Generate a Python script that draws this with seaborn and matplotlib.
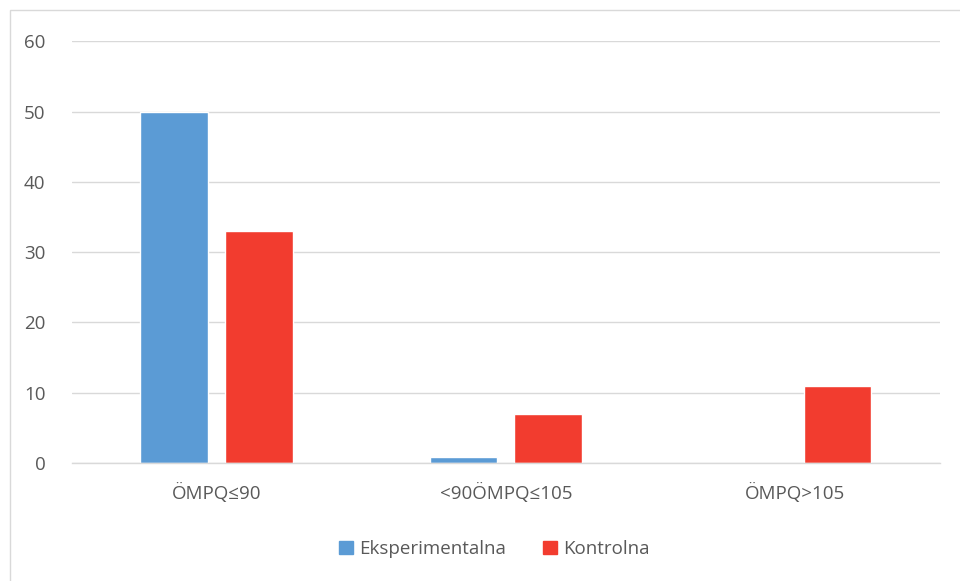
import pandas as pd
import matplotlib.pyplot as plt
import matplotlib.patches as mpatches
import seaborn as sns

categories = ['ÖMPQ≤90', '<90ÖMPQ≤105', 'ÖMPQ>105']
eksperimentalna = [50, 0.8, 0]
kontrolna = [33, 7, 11]
series_names = ['Eksperimentalna', 'Kontrolna']
colors = {'Eksperimentalna': '#5B9BD5', 'Kontrolna': '#F23C2F'}

df = pd.DataFrame({
    'category': categories * 2,
    'value': eksperimentalna + kontrolna,
    'series': [series_names[0]] * 3 + [series_names[1]] * 3,
})

sns.set_style('white')
plt.rcParams['font.family'] = ['Open Sans', 'DejaVu Sans']

fig = plt.figure(figsize=(9.6, 5.81), dpi=100)
ax = fig.add_axes([0.075, 0.203, 0.904, 0.726])

sns.barplot(data=df, x='category', y='value', hue='series', order=categories,
            hue_order=series_names, palette=colors, width=0.585, gap=0.2,
            saturation=1, ax=ax, legend=False)

ax.set_ylim(0, 60)
ax.set_yticks(range(0, 61, 10))
ax.set_xlim(-0.5, 2.5)
ax.yaxis.grid(True, color='#D9D9D9', linewidth=1)
ax.set_axisbelow(True)
for s in ['top', 'right', 'left']:
    ax.spines[s].set_visible(False)
ax.spines['bottom'].set_color('#D9D9D9')
ax.spines['bottom'].set_linewidth(1)
ax.tick_params(axis='both', length=0, labelsize=13.5, labelcolor='#595959')
ax.tick_params(axis='y', pad=19)
ax.tick_params(axis='x', pad=14)
ax.set_xlabel('')
ax.set_ylabel('')

handles = [mpatches.Patch(color=colors[n], label=n) for n in series_names]
fig.legend(handles=handles, loc='center', bbox_to_anchor=(0.515, 0.055), ncol=2,
           frameon=False, fontsize=13.5, labelcolor='#595959', handlelength=0.75,
           handleheight=0.75, handletextpad=0.3, columnspacing=2.0)

# outer chart border (partially visible in the reference)
fig.patches.append(mpatches.Rectangle((10 / 960, -0.01), 1.2, 1 - 10 / 581 + 0.01,
                                      transform=fig.transFigure, fill=False,
                                      edgecolor='#D9D9D9', linewidth=1))

fig.savefig('out.png', dpi=100)
